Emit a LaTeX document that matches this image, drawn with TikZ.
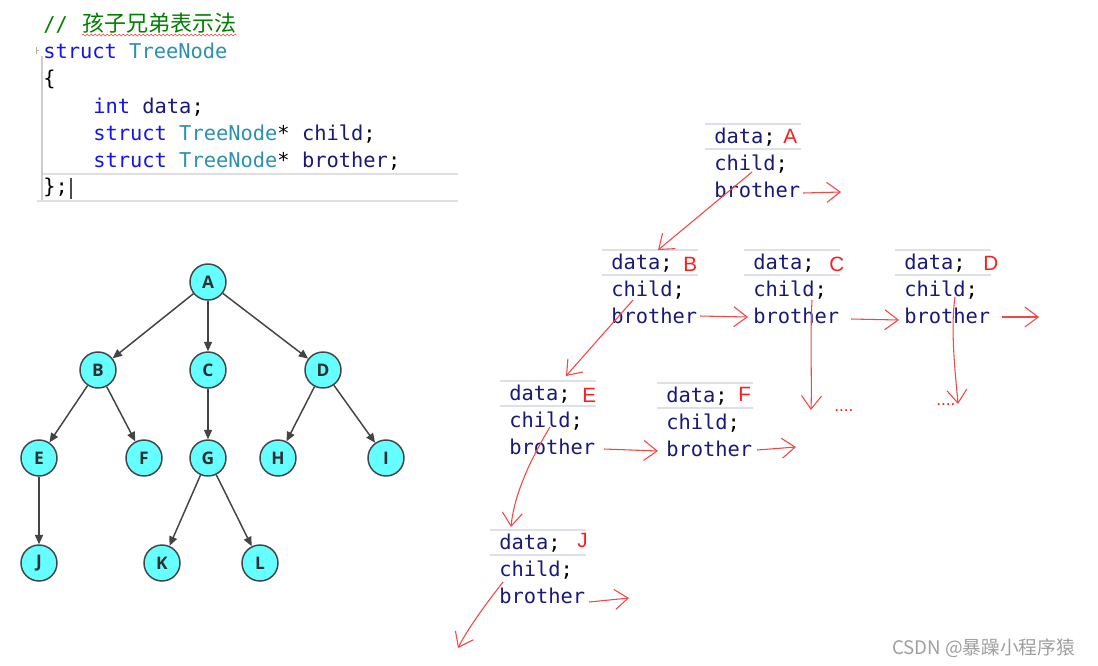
\documentclass[tikz,border=0pt]{standalone}
\usepackage{fontspec}
\setmonofont{DejaVu Sans Mono}
\setsansfont{Liberation Sans}
\newfontfamily\cjk{Noto Sans CJK SC}
\newfontfamily\treefont{Open Sans}
\usetikzlibrary{arrows.meta,decorations.pathmorphing}
\definecolor{kw}{RGB}{20,20,235}
\definecolor{ty}{RGB}{43,145,175}
\definecolor{idf}{RGB}{25,25,120}
\definecolor{cmt}{RGB}{0,128,0}
\definecolor{hand}{RGB}{245,70,70}
\definecolor{lbl}{RGB}{250,30,30}
\definecolor{sepc}{RGB}{222,224,232}
\definecolor{cyanfill}{RGB}{102,255,255}
\definecolor{edgec}{RGB}{68,68,68}
\tikzset{
  code/.style={font=\ttfamily\fontsize{15.3}{18}\selectfont, anchor=base west, inner sep=0pt},
  lab/.style={font=\sffamily\fontsize{15.5}{18}\selectfont, text=lbl, anchor=base west, inner sep=0pt},
  tn/.style={circle, draw=edgec, line width=1.1pt, fill=cyanfill, minimum size=27pt, inner sep=0pt,
    font=\treefont\bfseries\fontsize{13}{13}\selectfont, text=edgec!70!black},
  te/.style={draw=edgec, line width=1.1pt, -{Triangle[length=7pt,width=6pt]}},
  handarrow/.style={draw=hand, line width=0.8pt, -{Straight Barb[length=10pt,width=15pt]}},
  sepline/.style={draw=sepc, line width=1.5pt},
  dots/.style={font=\sffamily\fontsize{13}{13}\selectfont, text=lbl, anchor=base west, inner sep=0pt}
}
\newcommand\tnblock[6]{%
  \draw[sepline] (#2-11,#3-19) -- (#2+85,#3-19);
  \draw[sepline] (#2-11,#3+6) -- (#2+85,#3+6);
  \node[code] (#1d) at (#2-2,#3) {\color{idf}data\color{black};};
  \node[code] (#1c) at (#2-2,#3+27) {\color{idf}child\color{black};};
  \node[code] (#1b) at (#2-2,#3+54) {\color{idf}brother};
  \node[lab] (#1l) at (#5,#6) {#4};
}
\begin{document}
\begin{tikzpicture}[x=0.75pt,y=-0.75pt]
\useasboundingbox (0,0) rectangle (1098,665);
\fill[white] (0,0) rectangle (1098,665);

% ---------- code ----------
\node[code, text=cmt] (cm) at (43,31) {//};
\node[anchor=base west, inner sep=0pt, font=\cjk\fontsize{16.5}{16.5}\selectfont, text=cmt] (cmz) at (82,31) {孩子兄弟表示法};
\draw[red!70, line width=0.5pt, decorate, decoration={snake, amplitude=0.7pt, segment length=3pt}]
  ([yshift=-3pt]cmz.base west) -- ([yshift=-3pt]cmz.base east);
\node[code] (l1) at (43,58) {\color{kw}struct \color{ty}TreeNode};
\node[code] (l2) at (43,85.5) {\{};
\node[code] (l3) at (93,113) {\color{kw}int \color{idf}data\color{black};};
\node[code] (l4) at (93,140) {\color{kw}struct \color{ty}TreeNode\color{black}* \color{idf}child\color{black};};
\node[code] (l5) at (93,167) {\color{kw}struct \color{ty}TreeNode\color{black}* \color{idf}brother\color{black};};
\node[code] (l6) at (43,193) {\}{};};
\draw[gray!25, line width=1pt] (43,174) -- (458,174);
\draw[gray!25, line width=1pt] (37,201) -- (458,201);
\draw[gray!40, line width=0.8pt] (42,56) -- (42,200);
\draw[gray!60, line width=0.4pt] (36,47) -- (36,54) (36,50.5) -- (39,50.5);
\draw[black!70, line width=0.8pt] (71,178) -- (71,199);

% ---------- tree ----------
\node[tn] (A) at (208,282) {A};
\node[tn] (B) at (98,370) {B};
\node[tn] (C) at (208,370) {C};
\node[tn] (D) at (323,370) {D};
\node[tn] (E) at (39,458) {E};
\node[tn] (F) at (144,458) {F};
\node[tn] (G) at (208,458) {G};
\node[tn] (H) at (278,458) {H};
\node[tn] (I) at (386,458) {I};
\node[tn] (J) at (39,563) {J};
\node[tn] (K) at (162,563) {K};
\node[tn] (L) at (260,563) {L};
\draw[te] (A) -- (B);
\draw[te] (A) -- (C);
\draw[te] (A) -- (D);
\draw[te] (B) -- (E);
\draw[te] (B) -- (F);
\draw[te] (C) -- (G);
\draw[te] (D) -- (H);
\draw[te] (D) -- (I);
\draw[te] (E) -- (J);
\draw[te] (G) -- (K);
\draw[te] (G) -- (L);

% ---------- child/brother blocks ----------
\tnblock{a}{716}{143}{A}{783}{143}
\tnblock{b}{613}{269}{B}{683}{271}
\tnblock{c}{755}{269}{C}{829}{271}
\tnblock{d}{906}{269}{D}{983}{270}
\tnblock{e}{511}{400}{E}{582}{402}
\tnblock{f}{668}{402}{F}{738}{401}
\tnblock{j}{501}{549}{J}{577}{547}
\node[dots] (cdots) at (834,411) {....};
\node[dots] (ddots) at (936,405) {....};

% hand-drawn connector ends
\coordinate (aCs) at (752,172);
\coordinate (bIn) at (658,250);
\coordinate (aBs) at (803,193);
\coordinate (aBe) at (841,192);
\coordinate (bCs) at (633,300);
\coordinate (eIn) at (566,376);
\coordinate (bBs) at (700,316);
\coordinate (cIn) at (748,317);
\coordinate (cCs) at (812,300);
\coordinate (cCe) at (811,410);
\coordinate (cBs) at (851,319);
\coordinate (dIn) at (899,320);
\coordinate (dCs) at (955,297);
\coordinate (dCe) at (958,404);
\coordinate (dBs) at (1002,317);
\coordinate (dBe) at (1039,317);
\coordinate (eCs) at (550,427);
\coordinate (jIn) at (511,527);
\coordinate (eBs) at (604,449);
\coordinate (fIn) at (658,451);
\coordinate (fBs) at (757,450);
\coordinate (fBe) at (796,447);
\coordinate (jCs) at (503,582);
\coordinate (jCe) at (458,648);
\coordinate (jBs) at (589,602);
\coordinate (jBe) at (629,598);

\draw[handarrow] (aCs) -- (bIn);
\draw[handarrow] (aBs) -- (aBe);
\draw[handarrow] (bCs) -- (eIn);
\draw[handarrow] (bBs) -- (cIn);
\draw[handarrow] (cCs) .. controls (810,340) and (812,380) .. (cCe);
\draw[handarrow] (cBs) -- (dIn);
\draw[handarrow] (dCs) .. controls (950,330) and (956,380) .. (dCe);
\draw[handarrow] (dBs) -- (dBe);
\draw[handarrow] (eCs) .. controls (530,460) and (514,495) .. (jIn);
\draw[handarrow] (eBs) -- (fIn);
\draw[handarrow] (fBs) -- (fBe);
\draw[handarrow] (jCs) .. controls (485,605) and (467,630) .. (jCe);
\draw[handarrow] (jBs) -- (jBe);

% ---------- watermark ----------
\node[anchor=base west, inner sep=0pt, font=\cjk\fontsize{14}{14}\selectfont, text=gray!75] (wm) at (892,654) {CSDN @暴躁小程序猿};
\end{tikzpicture}
\end{document}
